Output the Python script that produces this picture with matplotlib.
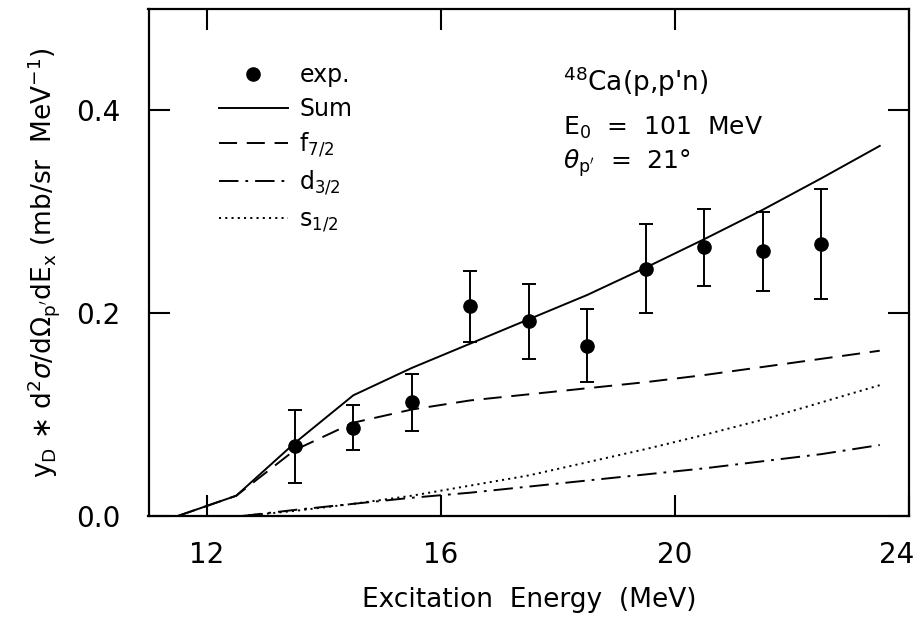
import matplotlib
matplotlib.use("Agg")
import matplotlib.pyplot as plt
import matplotlib.transforms as mtransforms
from matplotlib.lines import Line2D
import numpy as np

plt.rcParams["font.family"] = ["DejaVu Sans"]
plt.rcParams["mathtext.fontset"] = "dejavusans"
plt.rcParams["lines.scale_dashes"] = False

# experimental points
exp_x = [13.5, 14.5, 15.5, 16.5, 17.5, 18.5, 19.5, 20.5, 21.5, 22.5]
exp_y = [0.069, 0.087, 0.112, 0.207, 0.192, 0.168, 0.244, 0.265, 0.261, 0.268]
exp_err = [0.036, 0.022, 0.028, 0.035, 0.037, 0.036, 0.044, 0.038, 0.039, 0.054]

# calculated curves
calc_x = [11.5, 12.5, 13.5, 14.5, 15.5, 16.5, 17.5, 18.5, 19.5, 20.5, 21.5, 22.5, 23.5]
sum_y = [0.0, 0.020, 0.072, 0.119, 0.146, 0.170, 0.194, 0.218, 0.245, 0.273, 0.302, 0.333, 0.365]
f72_y = [0.0, 0.020, 0.065, 0.092, 0.105, 0.114, 0.120, 0.126, 0.132, 0.139, 0.147, 0.155, 0.163]

small_x = [12.6, 13.5, 14.5, 15.5, 16.5, 17.5, 18.5, 19.5, 20.5, 21.5, 22.5, 23.5]
d32_y = [0.0, 0.006, 0.012, 0.018, 0.023, 0.029, 0.035, 0.041, 0.047, 0.054, 0.061, 0.070]
s12_y = [0.0, 0.005, 0.012, 0.020, 0.030, 0.040, 0.053, 0.066, 0.080, 0.095, 0.112, 0.129]

fig = plt.figure(figsize=(9.19, 6.19), dpi=100)
ax = fig.add_axes([148.5 / 919, 1 - 516 / 619, (909 - 148.5) / 919, 507 / 619])

lw = 1.4
ax.errorbar(exp_x, exp_y, yerr=exp_err, fmt="o", color="black", markersize=9.5,
            elinewidth=1.4, capsize=5, capthick=1.4)
l_sum, = ax.plot(calc_x, sum_y, color="black", lw=lw)
l_f, = ax.plot(calc_x, f72_y, color="black", lw=lw, linestyle=(0, (13, 7)))
l_d, = ax.plot(small_x, d32_y, color="black", lw=lw, linestyle=(0, (14, 5, 2, 5)))
l_s, = ax.plot(small_x, s12_y, color="black", lw=lw, linestyle=(0, (1.5, 3)))

ax.set_xlim(11, 24)
ax.set_ylim(0, 0.5)
ax.set_xticks([12, 16, 20, 24])
ax.set_yticks([0.0, 0.2, 0.4])
ax.set_yticklabels(["0.0", "0.2", "0.4"])
ax.tick_params(direction="in", length=15, width=1.5, top=True, right=True,
               labelsize=20)
ax.tick_params(axis="x", pad=18)
ax.tick_params(axis="y", pad=20)
for s in ax.spines.values():
    s.set_linewidth(1.6)

# keep the last x label ("24") inside the figure
last = ax.get_xticklabels()[-1]
last.set_transform(last.get_transform() + mtransforms.ScaledTranslation(-12 / 100, 0, fig.dpi_scale_trans))

ax.set_xlabel("Excitation  Energy  (MeV)", fontsize=19, labelpad=13)
ax.set_ylabel(r"y$_\mathrm{D}$ $\ast$ d$^2\sigma$/d$\Omega_\mathrm{p'}$dE$_\mathrm{x}$ (mb/sr  MeV$^{-1}$)",
              fontsize=19, labelpad=10)

exp_proxy = Line2D([], [], marker="o", markersize=9.5, color="black", linestyle="none")
ax.legend([exp_proxy, l_sum, l_f, l_d, l_s],
          ["exp.", "Sum", "f$_{7/2}$", "d$_{3/2}$", "s$_{1/2}$"],
          loc="upper left", bbox_to_anchor=(0.065, 0.935), frameon=False,
          fontsize=17, handlelength=2.9, handletextpad=0.5, labelspacing=0.42)

ax.text(0.545, 0.838, r"$^{48}$Ca(p,p'n)", transform=ax.transAxes, fontsize=19)
ax.text(0.545, 0.752, r"E$_0$  =  101  MeV", transform=ax.transAxes, fontsize=18)
ax.text(0.545, 0.685, r"$\theta_\mathrm{p'}$  =  21$\degree$", transform=ax.transAxes, fontsize=18)

plt.savefig("out.png", dpi=100)
plt.close()
